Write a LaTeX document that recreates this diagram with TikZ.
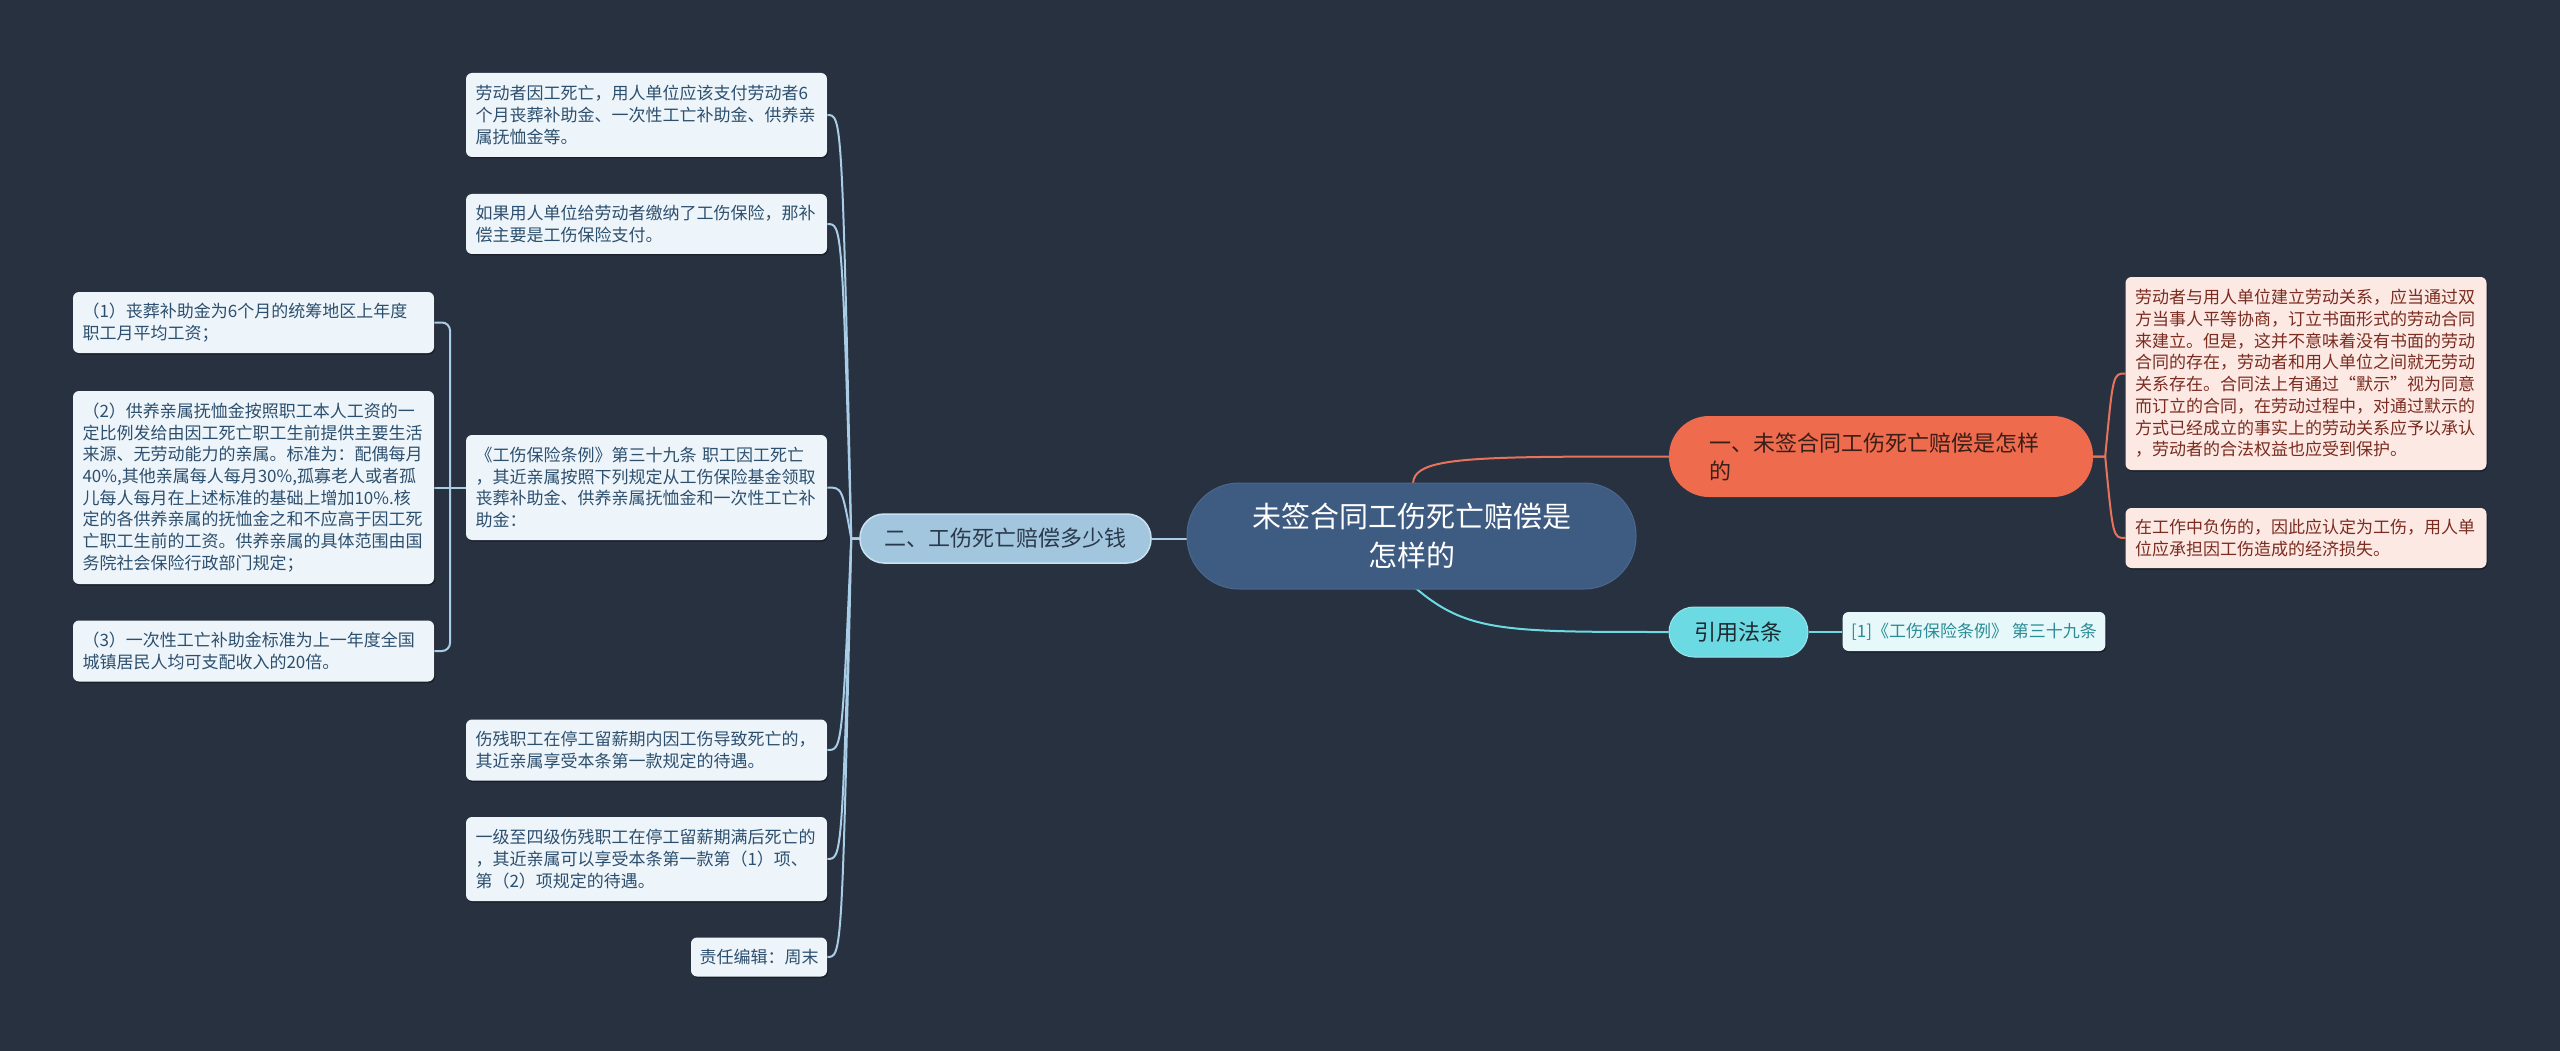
\documentclass[tikz,border=0pt]{standalone}
\usepackage{fontspec}
\setmainfont{Noto Sans CJK SC}
\usetikzlibrary{calc,shadows}
\pgfdeclarelayer{back}
\pgfdeclarelayer{bg}
\pgfsetlayers{back,bg,main}
\definecolor{bgc}{HTML}{283140}
\definecolor{ctr}{HTML}{3E5B82}
\definecolor{ctrline}{HTML}{4A6890}
\definecolor{b2fill}{HTML}{A3C6DF}
\definecolor{b2line}{HTML}{C9E2F2}
\definecolor{b2text}{HTML}{2A3A4C}
\definecolor{orng}{HTML}{EF6B4D}
\definecolor{otext}{HTML}{3A1E18}
\definecolor{cyan1}{HTML}{6CDAE2}
\definecolor{cytext}{HTML}{1F2A30}
\definecolor{lfill}{HTML}{EDF5FA}
\definecolor{ltext}{HTML}{2D4F6E}
\definecolor{rfill}{HTML}{FDE9E4}
\definecolor{rtext}{HTML}{7A2C20}
\definecolor{cfill}{HTML}{E6F8F9}
\definecolor{ctext}{HTML}{2A8C96}
\definecolor{lbline}{HTML}{A9CDE6}
\definecolor{oline}{HTML}{E8735B}
\begin{document}
\begin{tikzpicture}[x=1pt,y=-1pt,
  shd/.style={drop shadow={shadow xshift=1pt,shadow yshift=-1.5pt,fill=black,opacity=0.35}},
  leafbox/.style={rectangle, rounded corners=6pt, fill=lfill, text=ltext, inner xsep=9.5pt, inner ysep=0pt,
    text width=342pt, align=left, font=\fontsize{17}{21.7}\selectfont, shd},
  rleaf/.style={leafbox, fill=rfill, text=rtext},
  lbl/.style={draw=lbline, line width=2pt},
  oln/.style={draw=oline, line width=2pt},
  cyl/.style={draw=cyan1, line width=2pt},
]
\begin{pgfonlayer}{back}
\fill[bgc] (0,0) rectangle (2560,1051);
\end{pgfonlayer}
\useasboundingbox (0,0) rectangle (2560,1051);

% central node
\node[rectangle, rounded corners=52pt, fill=ctr, draw=ctrline, line width=1pt, minimum width=449pt, minimum height=106pt,
  text=white, align=center, font=\fontsize{29}{39}\selectfont, inner sep=0pt] (C) at (1411.5,536)
  {未签合同工伤死亡赔偿是\\怎样的};

% branch 2 (left)
\node[rectangle, rounded corners=24pt, fill=b2fill, draw=b2line, line width=1.5pt, minimum width=291pt, minimum height=49pt,
  text=b2text, font=\fontsize{22}{28}\selectfont, inner sep=0pt] (B2) at (1005.5,538.5) {二、工伤死亡赔偿多少钱};

% branch 1 (orange)
\node[rectangle, rounded corners=40pt, fill=orng, minimum width=424pt, minimum height=81pt, inner xsep=40pt, inner ysep=0pt,
  text width=344pt, align=left, text=otext, font=\fontsize{22}{28}\selectfont] (B1) at (1881,456.5)
  {一、未签合同工伤死亡赔偿是怎样\\的};

% branch 3 (cyan)
\node[rectangle, rounded corners=25pt, fill=cyan1, draw=cyan1!70!white, line width=1pt, minimum width=139pt, minimum height=50pt,
  text=cytext, font=\fontsize{22}{28}\selectfont, inner sep=0pt] (B3) at (1738.5,632) {引用法条};

\node[rectangle, rounded corners=6pt, fill=cfill, text=ctext, inner xsep=8.5pt, inner ysep=0pt, minimum height=39pt,
  font=\fontsize{17}{21.7}\selectfont, shd] (Ref) at (1974,631.5) {[1]《工伤保险条例》 第三十九条};

% left column leaves
\node[leafbox, minimum height=84pt] (L1) at (646.5,115)
  {劳动者因工死亡，用人单位应该支付劳动者6\\个月丧葬补助金、一次性工亡补助金、供养亲\\属抚恤金等。};
\node[leafbox, minimum height=60pt] (L2) at (646.5,224)
  {如果用人单位给劳动者缴纳了工伤保险，那补\\偿主要是工伤保险支付。};
\node[leafbox, minimum height=105pt] (L3) at (646.5,487.5)
  {《工伤保险条例》第三十九条 职工因工死亡\\，其近亲属按照下列规定从工伤保险基金领取\\丧葬补助金、供养亲属抚恤金和一次性工亡补\\助金：};
\node[leafbox, minimum height=61pt] (L4) at (646.5,750)
  {伤残职工在停工留薪期内因工伤导致死亡的，\\其近亲属享受本条第一款规定的待遇。};
\node[leafbox, minimum height=84pt] (L5) at (646.5,859)
  {一级至四级伤残职工在停工留薪期满后死亡的\\，其近亲属可以享受本条第一款第（1）项、\\第（2）项规定的待遇。};
\node[rectangle, rounded corners=6pt, fill=lfill, text=ltext, inner xsep=8.5pt, inner ysep=0pt, minimum height=39pt,
  minimum width=136pt, font=\fontsize{17}{21.7}\selectfont, shd] (L6) at (759,957) {责任编辑：周末};

% far-left leaves
\node[leafbox, minimum height=61pt] (F1) at (253.5,322.5)
  {（1）丧葬补助金为6个月的统筹地区上年度\\职工月平均工资；};
\node[leafbox, minimum height=193pt] (F2) at (253.5,487.5)
  {（2）供养亲属抚恤金按照职工本人工资的一\\定比例发给由因工死亡职工生前提供主要生活\\来源、无劳动能力的亲属。标准为：配偶每月\\40\%,其他亲属每人每月30\%,孤寡老人或者孤\\儿每人每月在上述标准的基础上增加10\%.核\\定的各供养亲属的抚恤金之和不应高于因工死\\亡职工生前的工资。供养亲属的具体范围由国\\务院社会保险行政部门规定；};
\node[leafbox, minimum height=61pt] (F3) at (253.5,651)
  {（3）一次性工亡补助金标准为上一年度全国\\城镇居民人均可支配收入的20倍。};

% right leaves
\node[rleaf, minimum height=193pt] (R1) at (2306,373.5)
  {劳动者与用人单位建立劳动关系，应当通过双\\方当事人平等协商，订立书面形式的劳动合同\\来建立。但是，这并不意味着没有书面的劳动\\合同的存在，劳动者和用人单位之间就无劳动\\关系存在。合同法上有通过“默示”视为同意\\而订立的合同，在劳动过程中，对通过默示的\\方式已经成立的事实上的劳动关系应予以承认\\，劳动者的合法权益也应受到保护。};
\node[rleaf, minimum height=60pt] (R2) at (2306,538)
  {在工作中负伤的，因此应认定为工伤，用人单\\位应承担因工伤造成的经济损失。};

\coordinate (t2) at (842,538.5);
\coordinate (t3) at (450,487.5);
\coordinate (t1) at (2113,456.5);

\begin{pgfonlayer}{bg}
\draw[lbl] (B2.east) -- (B2.east -| C.west);
\foreach \n in {L1,L2,L3,L4,L5,L6}{
  \draw[lbl] (B2.west) -- ++(-8,0) .. controls (t2 |- \n.east) and (t2 |- \n.east) .. (\n.east);
}
\draw[lbl, rounded corners=8pt] (F1.east) -| (t3) |- (F3.east);
\draw[lbl] (F2.east) -- (L3.west);
\draw[oln] ($(C.center)+(27.5,0)$) .. controls ($(C.center |- B1.west)+(-23.5,0)$) .. (B1.west);
\draw[cyl] ($(C.center)+(-49.5,0)$) .. controls ($(C.center |- B3.west)+(44.5,0)$) .. (B3.west);
\draw[cyl] (B3.east) -- (B3.east -| Ref.west);
\foreach \n in {R1,R2}{
  \draw[oln] (B1.east) -- ++(12,0) .. controls (t1 |- \n.west) and (t1 |- \n.west) .. (\n.west);
}
\end{pgfonlayer}
\end{tikzpicture}
\end{document}
